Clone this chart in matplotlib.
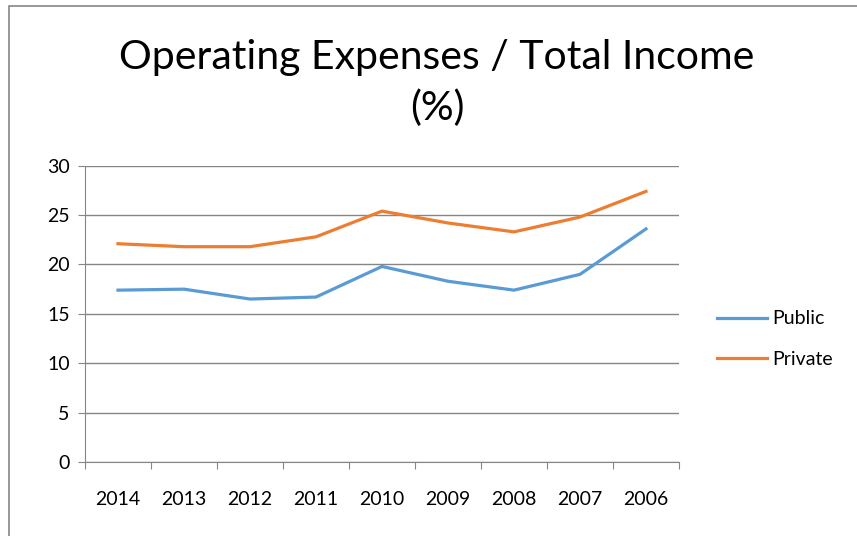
import matplotlib.pyplot as plt
from matplotlib.patches import Rectangle

# Dados
anos = ['2014', '2013', '2012', '2011', '2010', '2009', '2008', '2007', '2006']
publico = [17.4, 17.5, 16.5, 16.7, 19.8, 18.3, 17.4, 19.0, 23.6]
privado = [22.1, 21.8, 21.8, 22.8, 25.4, 24.2, 23.3, 24.8, 27.4]

cor_pub = '#5B9BD5'
cor_priv = '#ED7D31'
cinza = '#868686'

plt.rcParams['font.family'] = ['Lato', 'DejaVu Sans']

fig = plt.figure(figsize=(8.57, 5.36), dpi=100)
ax = fig.add_axes([85/857, 1 - 462/536, (679 - 85)/857, (462 - 165.7)/536])

x = list(range(len(anos)))
l1, = ax.plot(x, publico, color=cor_pub, lw=2.3, solid_joinstyle='round', label='Public')
l2, = ax.plot(x, privado, color=cor_priv, lw=2.3, solid_joinstyle='round', label='Private')

ax.set_xlim(-0.5, len(anos) - 0.5)
ax.set_ylim(0, 30)
ax.set_yticks(range(0, 31, 5))
ax.yaxis.grid(True, color=cinza, lw=1)
ax.set_axisbelow(True)

# ticks nas bordas das categorias, rótulos no centro
ax.set_xticks([i - 0.5 for i in range(len(anos) + 1)])
ax.set_xticklabels([])
ax.set_xticks(x, minor=True)
ax.set_xticklabels(anos, minor=True, fontsize=14)
ax.tick_params(axis='x', which='minor', length=0, pad=21)
ax.tick_params(axis='x', which='major', length=5, color=cinza, direction='out')
ax.tick_params(axis='y', length=5, color=cinza, labelsize=14, pad=6)

for lado in ['top', 'right']:
    ax.spines[lado].set_visible(False)
ax.spines['left'].set_color(cinza)
ax.spines['bottom'].set_color(cinza)

fig.text(0.51, 1 - 57/536, 'Operating Expenses / Total Income', ha='center', va='center', fontsize=29.5)
fig.text(0.51, 1 - 108/536, '(%)', ha='center', va='center', fontsize=29.5)

fig.legend(handles=[l1, l2], loc='center left', bbox_to_anchor=(699/857, 1 - 339/536),
           frameon=False, fontsize=14, handlelength=2.6, handletextpad=0.25, labelspacing=1.2)

# borda do gráfico
fig.patches.append(Rectangle((9/857, -0.05), 1.1, 1.05 - 6/536, transform=fig.transFigure,
                             fill=False, edgecolor=cinza, lw=1.2))

plt.savefig('out.png', dpi=100)
